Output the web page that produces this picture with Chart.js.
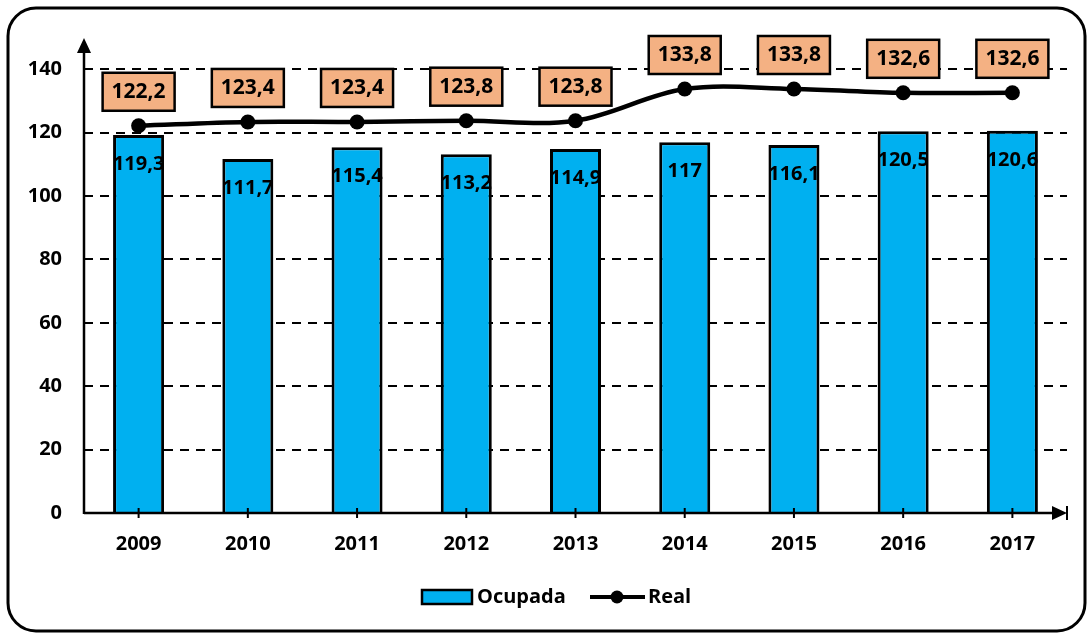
<!DOCTYPE html>
<html><head><meta charset="utf-8">
<script src="https://cdn.jsdelivr.net/npm/chart.js@4/dist/chart.umd.min.js"></script>
<style>html,body{margin:0;padding:0;background:#fff;}#wrap{width:1089px;height:634px;position:relative;}canvas{display:block;}</style>
</head><body><div id="wrap"><canvas id="c" width="1089" height="634"></canvas></div>
<script>
const years = ['2009','2010','2011','2012','2013','2014','2015','2016','2017'];
const ocupada = [119.3,111.7,115.4,113.2,114.9,117,116.1,120.5,120.6];
const real = [122.2,123.4,123.4,123.8,123.8,133.8,133.8,132.6,132.6];
const yTicks = [0,20,40,60,80,100,120,140];
const seriesNames = ['Ocupada','Real'];

const FONT = '"Open Sans", Lato, sans-serif';
const BLUE = '#00B0F0';
const PEACH = '#F4B183';
const fmt = v => String(v).replace('.', ',');

function roundRect(ctx, x, y, w, h, r) {
  ctx.beginPath();
  ctx.moveTo(x + r, y);
  ctx.lineTo(x + w - r, y);
  ctx.arcTo(x + w, y, x + w, y + r, r);
  ctx.lineTo(x + w, y + h - r);
  ctx.arcTo(x + w, y + h, x + w - r, y + h, r);
  ctx.lineTo(x + r, y + h);
  ctx.arcTo(x, y + h, x, y + h - r, r);
  ctx.lineTo(x, y + r);
  ctx.arcTo(x, y, x + r, y, r);
  ctx.closePath();
}

const deco = {
  id: 'deco',
  beforeDraw(chart) {
    const ctx = chart.ctx;
    ctx.save();
    ctx.fillStyle = '#fff';
    ctx.fillRect(0, 0, chart.width, chart.height);
    ctx.lineWidth = 3;
    ctx.strokeStyle = '#000';
    roundRect(ctx, 8, 8, 1077, 623, 28);
    ctx.stroke();
    ctx.restore();
  },
  afterDatasetsDraw(chart) {
    const ctx = chart.ctx;
    const ca = chart.chartArea;
    const xs = chart.scales.x;
    ctx.save();
    ctx.strokeStyle = '#000';
    ctx.fillStyle = '#000';
    ctx.lineWidth = 2.5;
    ctx.beginPath();
    ctx.moveTo(ca.left, ca.bottom + 1);
    ctx.lineTo(ca.left, 50);
    ctx.stroke();
    ctx.beginPath();
    ctx.moveTo(ca.left, 38);
    ctx.lineTo(ca.left - 7, 53);
    ctx.lineTo(ca.left + 7, 53);
    ctx.closePath();
    ctx.fill();
    ctx.beginPath();
    ctx.moveTo(ca.left, ca.bottom);
    ctx.lineTo(ca.right - 10, ca.bottom);
    ctx.stroke();
    ctx.beginPath();
    ctx.moveTo(ca.right, ca.bottom);
    ctx.lineTo(ca.right - 15, ca.bottom - 7);
    ctx.lineTo(ca.right - 15, ca.bottom + 7);
    ctx.closePath();
    ctx.fill();
    ctx.lineWidth = 2;
    ctx.beginPath();
    ctx.moveTo(ca.right, ca.bottom - 7);
    ctx.lineTo(ca.right, ca.bottom + 7);
    ctx.stroke();
    years.forEach((y, i) => {
      const px = xs.getPixelForValue(i);
      ctx.beginPath();
      ctx.moveTo(px, ca.bottom - 5);
      ctx.lineTo(px, ca.bottom + 5);
      ctx.stroke();
    });
    ctx.font = 'bold 20px ' + FONT;
    ctx.textAlign = 'center';
    ctx.textBaseline = 'middle';
    chart.getDatasetMeta(0).data.forEach((el, i) => {
      ctx.fillText(fmt(ocupada[i]), el.x, el.y + 29);
    });
    ctx.restore();
  },
  afterDraw(chart) {
    const ctx = chart.ctx;
    ctx.save();
    ctx.font = 'bold 21px ' + FONT;
    ctx.textAlign = 'center';
    ctx.textBaseline = 'middle';
    chart.getDatasetMeta(1).data.forEach((el, i) => {
      const cx = el.x, cy = el.y - 34;
      ctx.fillStyle = PEACH;
      ctx.strokeStyle = '#000';
      ctx.lineWidth = 2.5;
      ctx.fillRect(cx - 36, cy - 19, 72, 38);
      ctx.strokeRect(cx - 36, cy - 19, 72, 38);
      ctx.fillStyle = '#000';
      ctx.fillText(fmt(real[i]), cx, cy);
    });
    const ly = 597;
    ctx.fillStyle = BLUE;
    ctx.strokeStyle = '#000';
    ctx.lineWidth = 2.5;
    ctx.fillRect(422, ly - 7, 50, 14);
    ctx.strokeRect(422, ly - 7, 50, 14);
    ctx.fillStyle = '#000';
    ctx.textAlign = 'left';
    ctx.font = 'bold 20px ' + FONT;
    ctx.fillText(seriesNames[0], 477, ly);
    ctx.lineWidth = 4;
    ctx.beginPath();
    ctx.moveTo(590, ly);
    ctx.lineTo(645, ly);
    ctx.stroke();
    ctx.beginPath();
    ctx.arc(617, ly, 6.5, 0, Math.PI * 2);
    ctx.fill();
    ctx.fillText(seriesNames[1], 648, ly);
    ctx.restore();
  }
};

new Chart(document.getElementById('c'), {
  data: {
    labels: years,
    datasets: [
      {
        type: 'bar', label: seriesNames[0], data: ocupada, order: 2,
        backgroundColor: BLUE, borderColor: '#000', borderWidth: 3,
        categoryPercentage: 1, barPercentage: 0.467
      },
      {
        type: 'line', label: seriesNames[1], data: real, order: 1,
        borderColor: '#000', backgroundColor: '#000', borderWidth: 4.5,
        pointRadius: 7.5, pointBackgroundColor: '#000', pointBorderWidth: 0,
        tension: 0.35, clip: false
      }
    ]
  },
  options: {
    responsive: false,
    maintainAspectRatio: false,
    animation: false,
    devicePixelRatio: 1,
    layout: { padding: { left: 0, right: 22, top: 44, bottom: 0 } },
    plugins: { legend: { display: false }, tooltip: { enabled: false } },
    scales: {
      x: {
        grid: { display: false, drawTicks: false },
        border: { display: false },
        ticks: { color: '#000', font: { family: FONT, size: 20, weight: 'bold' }, padding: 19, maxRotation: 0 },
        afterFit: s => { s.height = 121; }
      },
      y: {
        min: 0, max: 148,
        afterBuildTicks: s => { s.ticks = yTicks.map(v => ({ value: v })); },
        grid: {
          drawTicks: false,
          color: c => (c.tick && c.tick.value === 0) ? 'rgba(0,0,0,0)' : '#000',
          lineWidth: 2
        },
        border: { display: false, dash: [9, 7] },
        ticks: { color: '#000', font: { family: FONT, size: 20, weight: 'bold' }, padding: 22, callback: v => v },
        afterFit: s => { s.width = 84; }
      }
    }
  },
  plugins: [deco]
});
</script>
</body></html>
